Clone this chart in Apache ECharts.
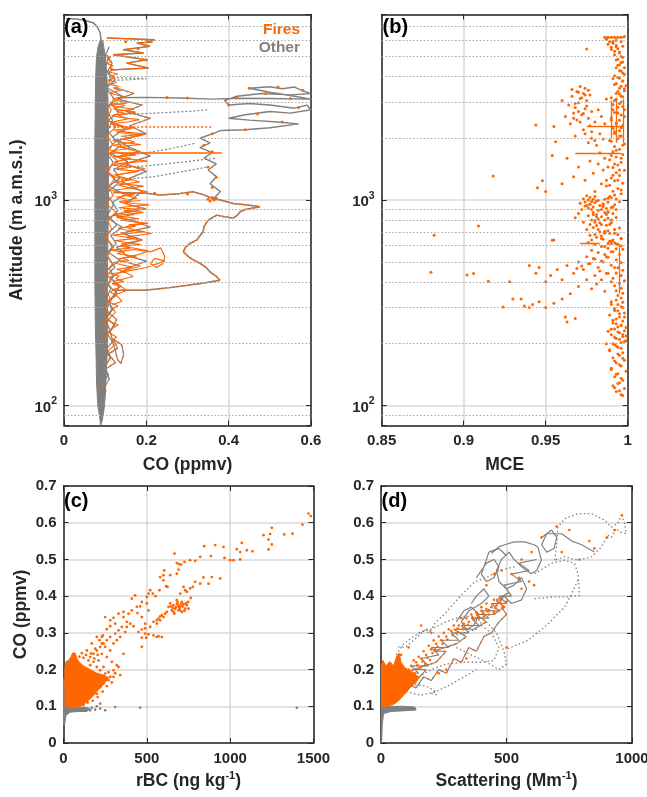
<!DOCTYPE html>
<html><head><meta charset="utf-8">
<script src="https://cdn.jsdelivr.net/npm/echarts@6/dist/echarts.min.js"></script>
<style>html,body{margin:0;padding:0;background:#fff}#c{width:647px;height:797px}</style>
</head><body><div id="c"></div>
<script>
// ---------------- DATA ----------------
const altMinorLines = [90,200,300,400,500,600,700,800,900,2000,3000,4000,5000,6000,7000];
const altRange = [80, 8000];
const coRangeA = [0, 0.6];
const mceRange = [0.85, 1];
const rbcRange = [0, 1500];
const scatRange = [0, 1000];
const coRangeCD = [0, 0.7];

// Panel (a): CO (ppmv) vs altitude (m)
const aOtherCore = [[0.089,80],[0.086,90],[0.082,100],[0.079,130],[0.078,170],[0.076,250],[0.075,400],[0.075,1000],[0.075,2000],[0.076,3000],[0.077,4000],[0.079,5000],[0.083,5600],[0.088,6000],[0.094,6000],[0.097,5500],[0.101,5000],[0.104,4000],[0.107,3000],[0.108,2000],[0.108,1000],[0.106,500],[0.105,300],[0.106,200],[0.103,150],[0.1,110],[0.097,95],[0.093,85]];
const aOtherT1 = [[0.088,90],[0.097,98],[0.091,107],[0.102,118],[0.094,129],[0.108,141],[0.099,155],[0.113,170],[0.101,186],[0.118,204],[0.105,224],[0.124,245],[0.103,269],[0.116,295],[0.108,323],[0.129,354],[0.104,388],[0.121,425],[0.11,466],[0.135,511],[0.106,560],[0.127,614],[0.113,673],[0.142,738],[0.108,809],[0.131,887],[0.117,972],[0.148,1066],[0.109,1168],[0.136,1281],[0.121,1404],[0.155,1539],[0.112,1687],[0.138,1850],[0.118,2028],[0.149,2223],[0.107,2437],[0.133,2672],[0.115,2929],[0.141,3211],[0.104,3520],[0.124,3859],[0.106,4231],[0.117,4638],[0.101,5085],[0.11,5575]];
const aOtherT2 = [[0.095,120],[0.11,135],[0.1,150],[0.125,162],[0.108,178],[0.13,190],[0.12,210],[0.14,198],[0.145,178],[0.138,160],[0.13,168],[0.112,230],[0.128,262],[0.102,290],[0.119,340],[0.134,380],[0.112,420],[0.16,470],[0.2,505],[0.15,540],[0.128,590],[0.19,640],[0.14,690],[0.21,740],[0.16,800],[0.12,850],[0.2,905],[0.15,960],[0.19,1100],[0.14,1230],[0.2,1380],[0.15,1500],[0.21,1640],[0.16,1800],[0.13,1950],[0.2,2100],[0.16,2300],[0.21,2500],[0.15,2700],[0.19,2900],[0.13,3100],[0.17,3300],[0.12,3550]];
const aOtherT3 = [[0.098,160],[0.107,182],[0.095,207],[0.112,233],[0.1,262],[0.119,295],[0.103,332],[0.114,373],[0.098,420],[0.124,472],[0.105,531],[0.117,597],[0.1,672],[0.128,756],[0.106,850],[0.121,956],[0.103,1076],[0.132,1210],[0.107,1361],[0.119,1531],[0.101,1722],[0.126,1937],[0.106,2179],[0.118,2451],[0.102,2757],[0.122,3101],[0.104,3488],[0.114,3923],[0.1,4413],[0.108,4964]];
const aOtherHook = [[0.093,5600],[0.09,6000],[0.088,6500],[0.08,7000],[0.07,7300],[0.05,7500],[0.03,7600],[0.005,7650]];
const aTopExcursion = [[0.104,6150],[0.221,6030],[0.2,5950],[0.215,5880],[0.177,5810],[0.209,5600],[0.144,5390],[0.193,5200],[0.119,5100],[0.201,4820],[0.152,4640],[0.205,4390],[0.112,4300]];
const aBigExcursion = [[0.13,3150],[0.2,3160],[0.28,3140],[0.36,3100],[0.42,3130],[0.5,3120],[0.6,3100],[0.56,3200],[0.5,3350],[0.45,3500],[0.5,3560],[0.53,3480],[0.56,3550],[0.58,3400],[0.6,3300],[0.55,3250],[0.48,3300],[0.42,3200],[0.39,3050],[0.4,2900],[0.45,2950],[0.5,2900],[0.56,2800],[0.59,2900],[0.6,2750],[0.55,2650],[0.5,2700],[0.44,2600],[0.4,2500],[0.45,2450],[0.52,2400],[0.57,2350],[0.5,2250],[0.44,2200],[0.38,2180],[0.36,2100],[0.33,2000],[0.355,1900],[0.33,1800],[0.36,1700],[0.34,1600],[0.37,1500],[0.35,1400],[0.37,1300],[0.355,1200],[0.38,1100],[0.36,1000]];
const aLowExcursion = [[0.12,1090],[0.2,1080],[0.233,1058],[0.28,1075],[0.313,1098],[0.34,1060],[0.359,1019],[0.38,1000],[0.411,963],[0.45,945],[0.476,928],[0.44,900],[0.428,877],[0.42,840],[0.411,817],[0.39,830],[0.371,845],[0.355,810],[0.347,784],[0.34,740],[0.338,700],[0.33,670],[0.322,638],[0.306,615],[0.295,590],[0.29,560],[0.302,531],[0.315,510],[0.33,493],[0.345,470],[0.355,447],[0.37,425],[0.379,407],[0.34,395],[0.3,385],[0.257,375],[0.22,368],[0.193,364],[0.15,364],[0.12,364]];
const aSweepA = [[0.1,3950],[0.15,3930],[0.2,3900],[0.16,3850],[0.11,3820]];
const aSweepB = [[0.12,1630],[0.2,1700],[0.26,1780],[0.318,1890]];
const aSweepC = [[0.12,1420],[0.25,1500],[0.37,1600]];
const aSweepD = [[0.12,1250],[0.22,1300],[0.35,1450]];
const aSweepE = [[0.12,2600],[0.22,2650],[0.3,2700],[0.35,2750]];
const aFiresT1 = [[0.104,160],[0.112,172],[0.108,185],[0.121,196],[0.115,208],[0.128,215],[0.11,226],[0.118,238],[0.132,247],[0.107,259],[0.114,270],[0.125,284],[0.119,297],[0.131,306],[0.109,318],[0.116,333],[0.127,341],[0.113,356],[0.122,368],[0.138,379],[0.117,392],[0.145,401],[0.126,414],[0.134,427],[0.111,438],[0.152,447],[0.128,461],[0.165,472],[0.137,486],[0.119,497],[0.158,508],[0.142,521],[0.176,533],[0.129,548],[0.148,559],[0.113,571],[0.162,584],[0.139,597],[0.187,608],[0.151,622],[0.124,635],[0.171,649],[0.144,663],[0.118,676],[0.159,689],[0.196,702],[0.148,717],[0.131,731],[0.174,745],[0.157,758],[0.205,771],[0.168,785],[0.139,799],[0.182,812],[0.154,828],[0.121,842],[0.166,857],[0.193,871],[0.146,886],[0.178,901],[0.133,917],[0.161,933],[0.207,948],[0.172,963],[0.141,979],[0.186,995]];
const aFiresT2 = [[0.152,1010],[0.127,1035],[0.171,1061],[0.138,1088],[0.116,1114],[0.158,1142],[0.193,1169],[0.145,1198],[0.122,1226],[0.167,1256],[0.134,1285],[0.111,1316],[0.149,1347],[0.182,1379],[0.128,1411],[0.161,1444],[0.119,1478],[0.141,1513],[0.203,1548],[0.156,1584],[0.124,1622],[0.175,1660],[0.138,1698],[0.112,1738],[0.159,1779],[0.131,1821],[0.187,1864],[0.146,1908],[0.118,1952],[0.165,1998],[0.139,2045],[0.198,2093],[0.152,2142],[0.121,2193],[0.171,2244],[0.134,2297],[0.113,2351],[0.158,2406],[0.183,2463],[0.137,2521],[0.116,2580],[0.149,2641],[0.127,2703],[0.171,2767],[0.136,2832],[0.111,2898],[0.154,2966],[0.132,3036],[0.118,3108],[0.146,3181],[0.125,3256],[0.109,3332],[0.138,3411],[0.121,3491],[0.134,3573],[0.112,3657],[0.128,3743],[0.106,3831],[0.124,3921],[0.114,4013],[0.131,4108],[0.108,4204],[0.122,4303],[0.111,4404],[0.119,4508],[0.105,4614],[0.116,4722],[0.107,4833],[0.113,4946],[0.104,5062]];
const aFiresT3 = [[0.1,205],[0.106,228],[0.098,251],[0.109,276],[0.102,304],[0.112,335],[0.099,368],[0.114,405],[0.103,446],[0.118,491],[0.104,540],[0.121,594],[0.101,654],[0.116,720],[0.107,792],[0.127,871],[0.103,959],[0.119,1055],[0.108,1161],[0.124,1277],[0.101,1405],[0.131,1546],[0.106,1701],[0.118,1871],[0.103,2059],[0.126,2265],[0.104,2492],[0.115,2742],[0.102,3016]];
const aFiresT4 = [[0.118,310],[0.141,322],[0.126,347],[0.152,363],[0.133,389],[0.119,401],[0.168,425],[0.143,452],[0.186,478],[0.157,495],[0.131,517],[0.178,541],[0.205,566],[0.162,588],[0.139,611],[0.184,637],[0.153,662],[0.212,688],[0.174,713],[0.149,741],[0.192,768],[0.163,795],[0.128,823],[0.171,852],[0.145,884],[0.189,915],[0.158,948],[0.134,982],[0.177,1020],[0.148,1059],[0.203,1098],[0.165,1140],[0.131,1183],[0.184,1228],[0.152,1274],[0.125,1322],[0.169,1372],[0.197,1424],[0.148,1478],[0.122,1534],[0.163,1592],[0.137,1652],[0.181,1715],[0.154,1780],[0.119,1847],[0.172,1917],[0.143,1990],[0.188,2065],[0.127,2143],[0.161,2224],[0.139,2308],[0.115,2396],[0.157,2487],[0.132,2581],[0.174,2679],[0.121,2780],[0.148,2885],[0.112,2994]];
const aFiresLoop = [[0.13,560],[0.17,575],[0.21,560],[0.235,585],[0.245,530],[0.24,490],[0.225,470],[0.21,490],[0.22,520],[0.245,505],[0.2,470],[0.15,450]];
const aFiresLine2270 = [[0.1,2270],[0.2,2270],[0.28,2270],[0.36,2270]];
const aFiresLine1694 = [[0.104,1694],[0.2,1694],[0.3,1694],[0.383,1694]];
const aFiresDots = [[0.45,3500],[0.52,3550],[0.58,3420],[0.49,3300],[0.42,3150],[0.55,3120],[0.4,2900],[0.57,2820],[0.47,2620],[0.53,2400],[0.44,2200],[0.36,2100],[0.34,1850],[0.36,1720],[0.35,1450],[0.37,1290],[0.36,1150],[0.35,1010],[0.365,1000],[0.37,1020],[0.355,990],[0.36,1030],[0.3,3140],[0.25,3160],[0.15,5900],[0.18,5450],[0.2,4800],[0.22,1080],[0.3,1070]];

// Panel (b): MCE vs altitude (m)
const bFires = [[0.986,6200],[0.988,6200],[0.99,6200],[0.992,6200],[0.994,6200],[0.996,6200],[0.998,6250],[0.987,6050],[0.989,5900],[0.991,5800],[0.993,5650],[0.99,5550],[0.994,5450],[0.992,5300],[0.995,5200],[0.996,5900],[0.997,5600],[0.993,6000],[0.975,5430],
[0.996,5000],[0.994,4850],[0.997,4700],[0.995,4550],[0.993,4400],[0.996,4250],[0.998,4100],[0.994,3950],[0.997,3800],[0.992,3650],[0.995,3500],[0.998,3400],[0.993,3300],[0.996,3200],[0.999,3600],[0.991,3900],
[0.971,3570],[0.974,3500],[0.976,3420],[0.969,3380],[0.973,3300],[0.977,3250],[0.966,3200],[0.972,3150],[0.975,3050],[0.97,2980],[0.964,2900],[0.968,2820],[0.974,2780],[0.978,2700],[0.967,2650],[0.972,2600],[0.976,2500],[0.962,2550],[0.969,2450],[0.98,2400],[0.965,2350],[0.973,2200],[0.978,2150],[0.983,2100],[0.968,2050],[0.985,1980],[0.976,1900],[0.981,1850],[0.984,2550],[0.986,2350],[0.982,2750],[0.987,3100],[0.96,3050],[0.955,2280],[0.944,2320],
[0.99,3150],[0.992,3050],[0.995,2950],[0.997,2850],[0.991,2750],[0.994,2650],[0.998,2550],[0.99,2450],[0.993,2350],[0.996,2250],[0.992,2150],[0.995,2050],[0.989,1950],[0.997,1850],[0.993,1750],[0.99,1650],[0.996,1600],[0.992,1500],[0.988,1450],[0.995,1400],[0.991,1320],[0.994,1250],[0.989,1180],[0.996,1120],[0.992,1060],[0.988,1020],[0.986,1600],[0.985,1400],[0.984,1200],[0.982,1500],[0.979,1350],[0.977,1550],[0.974,1250],[0.97,1450],[0.967,1300],[0.963,1600],[0.96,1200],[0.956,1925],[0.954,1646],[0.95,1100],[0.948,1242],[0.945,1148],[0.98,1100],[0.983,1700],[0.987,1250],
[0.975,1050],[0.977,1030],[0.979,1010],[0.976,1000],[0.978,985],[0.98,970],[0.977,955],[0.975,940],[0.979,925],[0.981,990],[0.974,980],[0.976,915],[0.978,900],[0.98,1040],
[0.972,900],[0.97,860],[0.968,820],[0.973,780],[0.976,840],[0.979,870],[0.982,810],[0.984,760],[0.98,780],[0.978,800],[0.981,830],[0.977,760],[0.975,720],[0.983,700],[0.986,690],[0.988,880],[0.99,920],[0.992,950],[0.991,860],[0.993,900],[0.99,800],[0.989,760],[0.992,720],[0.994,680],[0.996,650],[0.991,640],[0.985,930],[0.987,850],[0.984,650],[0.98,680],[0.978,640],
[0.988,615],[0.99,615],[0.992,620],[0.994,610],[0.996,600],[0.954,638],[0.955,640],[0.909,747],[0.882,675],
[0.993,580],[0.99,560],[0.987,530],[0.985,500],[0.982,470],[0.979,520],[0.976,490],[0.973,460],[0.97,500],[0.967,440],[0.963,480],[0.96,410],[0.957,460],[0.953,430],[0.95,400],[0.946,470],[0.944,440],[0.94,480],[0.988,440],[0.984,410],[0.981,390],[0.978,370],[0.986,360],[0.99,400],[0.992,470],[0.98,430],[0.975,410],[0.97,380],[0.965,350],[0.96,330],[0.955,315],[0.95,300],[0.946,320],[0.94,300],[0.935,330],[0.928,400],[0.924,302],[0.915,403],[0.906,439],[0.902,432],[0.88,446],[0.918,1310],[0.93,330],[0.937,305],[0.942,310],[0.962,270],[0.963,255],[0.968,265],
[0.99,320],[0.994,310],[0.997,300],[0.992,290],[0.995,280],[0.998,270],[0.991,260],[0.993,250],[0.996,245],[0.99,235],[0.994,228],[0.997,222],[0.999,218],[0.992,215],[0.995,210],[0.998,205],[0.991,200],[0.993,195],[0.996,190],[0.989,185],[0.994,178],[0.997,170],[0.992,165],[0.995,158],[0.99,150],[0.993,142],[0.996,136],[0.994,128],[0.992,122],[0.995,118],[0.997,112],[0.988,230],[0.987,200],[0.999,240]];
const bColumn = [[0.996,113],[0.993,117],[0.998,121],[0.991,125],[0.995,129],[0.997,133],[0.992,138],[0.994,143],[0.999,147],[0.99,152],[0.996,156],[0.993,161],[0.998,166],[0.991,171],[0.995,176],[0.997,181],[0.989,187],[0.994,192],[0.992,198],[0.996,203],[0.999,207],[0.993,212],[0.997,216],[0.99,221],[0.995,226],[0.998,231],[0.992,236],[0.994,241],[0.996,247],[0.991,252],[0.997,258],[0.993,264],[0.995,270],[0.989,276],[0.998,282],[0.994,289],[0.992,296],[0.996,303],[0.99,311],[0.997,318],[0.993,326],
[0.996,334],[0.994,343],[0.997,352],[0.993,362],[0.996,372],[0.992,383],[0.995,394],[0.998,405],[0.991,417],[0.996,429],[0.993,442],[0.997,455],[0.994,468],[0.99,482],[0.996,497],[0.993,512],[0.988,527],[0.995,543],[0.991,560],[0.997,577],[0.986,594],[0.993,612],[0.989,631],[0.996,650],[0.984,669],[0.992,689],[0.988,710],[0.995,731],[0.981,753],[0.99,776],[0.986,799],[0.993,823],[0.979,848],[0.988,873],[0.984,899],[0.991,926],[0.977,954],[0.995,982],
[0.993,1012],[0.989,1042],[0.996,1073],[0.991,1105],[0.994,1138],[0.987,1172],[0.997,1207],[0.992,1243],[0.99,1280],[0.995,1318],[0.993,1357],[0.998,1398],[0.991,1440],[0.994,1483],[0.996,1527],[0.989,1573],[0.993,1620],[0.997,1668],[0.991,1718],[0.995,1769],[0.992,1822],[0.998,1876],[0.99,1932],[0.994,1990],[0.996,2049],[0.992,2110],[0.995,2173],[0.991,2238],[0.997,2305],[0.993,2374],[0.995,2445],[0.99,2518],[0.996,2593],[0.992,2670],[0.998,2750],[0.994,2832],[0.991,2917],[0.996,3004],[0.993,3094],[0.997,3186],[0.995,3281],
[0.994,3379],[0.998,3480],[0.996,3584],[0.993,3691],[0.997,3801],[0.995,3915],[0.992,4032],[0.997,4152],[0.995,4276],[0.998,4404],[0.994,4535],[0.996,4671],[0.993,4810],[0.997,4954],[0.992,5102],[0.995,5254],[0.99,5411],[0.993,5573],[0.988,5739],[0.991,5911],[0.987,6087],
[0.985,960],[0.983,940],[0.987,910],[0.982,890],[0.986,870],[0.981,850],[0.984,830],[0.988,815],[0.98,795],[0.983,775],[0.987,755],[0.979,735],[0.982,720],[0.986,705],[0.989,690],[0.977,675],[0.981,660],[0.985,645],[0.99,630],[0.976,622],[0.98,608],[0.984,595],[0.988,583],[0.978,570],[0.982,556],[0.986,543],[0.975,530],[0.98,517],[0.984,505],[0.977,492],[0.972,478],[0.969,465],[0.983,452],[0.987,440],
[0.99,1030],[0.986,1010],[0.982,995],[0.988,975],[0.985,950],[0.973,1015],[0.971,965],[0.974,935],
[0.966,3450],[0.97,3350],[0.974,3250],[0.971,3120],[0.968,2950],[0.975,2870],[0.97,2700],[0.973,2640],[0.967,2500],[0.971,2400],[0.977,2300],[0.974,2100],[0.978,2000],[0.98,1950]];
const bStreaks = [[[0.975,2276],[0.997,2276]],[[0.968,1690],[0.996,1690]],[[0.995,350],[0.995,610]],[[0.993,1900],[0.993,3100]],[[0.997,1900],[0.997,3100]],[[0.99,2000],[0.99,3050]],[[0.986,6180],[0.998,6180]],[[0.971,615],[0.983,615]]];

// Panel (c): rBC (ng/kg) vs CO (ppmv)
const cOtherBlob = [[0,0.05],[0,0.175],[10,0.175],[12,0.1],[40,0.098],[80,0.097],[120,0.098],[160,0.094],[140,0.086],[90,0.086],[40,0.084],[15,0.075],[10,0.06],[6,0.05]];
const cOther = [[310,0.098],[460,0.096],[1400,0.096],[220,0.094],[190,0.091],[160,0.089],[250,0.089],[130,0.088],[100,0.087],[170,0.096],[200,0.1]];
const cFiresBlob = [[10,0.1],[8,0.2],[15,0.222],[30,0.225],[45,0.235],[55,0.245],[70,0.245],[80,0.23],[95,0.22],[120,0.21],[160,0.2],[200,0.19],[240,0.185],[270,0.178],[250,0.165],[220,0.15],[190,0.135],[160,0.12],[130,0.108],[100,0.1],[60,0.098]];
const cFires = [[1470,0.625],[1484,0.618],[1434,0.595],[1374,0.57],[1324,0.568],[1250,0.586],[1240,0.569],[1230,0.554],[1250,0.541],[1230,0.527],[1200,0.566],[1134,0.522],[1100,0.525],[1070,0.545],[1060,0.52],[1040,0.528],[1020,0.498],[1000,0.498],[1060,0.5],[966,0.504],[960,0.534],[910,0.539],[884,0.509],[844,0.536],[820,0.507],[790,0.496],[760,0.498],[726,0.493],[706,0.486],[680,0.49],[666,0.516],[690,0.472],[680,0.461],[640,0.457],[604,0.47],[580,0.452],[600,0.443],[624,0.425],[576,0.416],[520,0.416],[536,0.407],[552,0.4],[460,0.372],[500,0.38],[510,0.361],
[940,0.448],[890,0.452],[870,0.434],[840,0.451],[820,0.434],[790,0.439],[776,0.425],[760,0.421],[740,0.412],[764,0.395],[748,0.384],[730,0.416],[720,0.425],[700,0.407],
[660,0.375],[680,0.379],[700,0.371],[720,0.378],[670,0.366],[690,0.361],[710,0.384],[730,0.366],[650,0.361],[630,0.371],[740,0.375],[680,0.389],[660,0.357],[710,0.357],[640,0.38],[750,0.366],[620,0.357],[610,0.352],[590,0.348],[600,0.343],[580,0.345],[570,0.339],[560,0.334],
[675,0.37],[695,0.368],[715,0.372],[655,0.368],[685,0.383],[705,0.378],[725,0.36],[665,0.352],[645,0.372],[735,0.38],[700,0.362],[690,0.374],
[580,0.334],[560,0.325],[540,0.33],[520,0.316],[490,0.312],[470,0.309],[450,0.302],[490,0.298],[510,0.296],[540,0.293],[570,0.291],[590,0.289],[560,0.289],[470,0.287],[470,0.262],[496,0.287],
[510,0.407],[500,0.398],[470,0.384],[440,0.371],[410,0.361],[390,0.352],[360,0.343],[380,0.33],[350,0.316],[330,0.307],[310,0.298],[300,0.341],[280,0.318],[260,0.31],[236,0.293],[240,0.271],[220,0.262],[200,0.252],[180,0.243],[160,0.234],[260,0.234],[290,0.221],[320,0.212],[340,0.185],[220,0.107],[410,0.393],[430,0.402],[400,0.325],[420,0.318],[470,0.343],[490,0.325],[444,0.354],[600,0.457],[616,0.427],[694,0.487],
[170,0.271],[190,0.257],[230,0.243],[210,0.225],[240,0.207],[270,0.193],[300,0.198],[330,0.207],[360,0.243],[280,0.252],[250,0.262],[230,0.289],
[200,0.289],[216,0.28],[230,0.271],[260,0.28],[280,0.289],[300,0.271],[320,0.28],[340,0.289],[370,0.302],[380,0.316],[310,0.325],[280,0.334],[250,0.343],[330,0.352],[360,0.357],[180,0.221],[160,0.212],[200,0.207],[220,0.198],[250,0.189],[280,0.18],[190,0.189],[170,0.171],[220,0.152],[200,0.134],[240,0.162],[270,0.171],
[120,0.232],[135,0.24],[150,0.225],[110,0.245],[140,0.252],[165,0.244],[185,0.23],[205,0.24],[95,0.235],[290,0.165],[300,0.18],[310,0.19],[260,0.155],[235,0.14],[205,0.125],[175,0.115],[145,0.11],[120,0.104]];

// Panel (d): Scattering (Mm-1) vs CO (ppmv)
const dOtherBlob = [[0,0.0],[0,0.1],[40,0.1],[90,0.1],[135,0.098],[140,0.09],[100,0.088],[40,0.086],[10,0.08],[5,0.05],[3,0.01]];
const dOtherArcTop = [[692,0.498],[700,0.54],[705,0.588],[732,0.611],[785,0.625],[838,0.625],[891,0.607],[918,0.588],[944,0.598],[957,0.62],[970,0.6],[977,0.57],[950,0.575],[937,0.584],[918,0.56],[904,0.566],[878,0.534],[838,0.507],[785,0.498],[732,0.507],[692,0.498]];
const dOtherLoopRight = [[612,0.461],[680,0.49],[732,0.498],[771,0.489],[785,0.461],[791,0.402],[745,0.398],[692,0.398],[612,0.393]];
const dOtherDiagRight = [[785,0.443],[732,0.37],[652,0.316],[586,0.28],[506,0.257]];
const dOtherArcLeft = [[532,0.48],[470,0.47],[420,0.45],[373,0.439],[330,0.41],[307,0.393],[254,0.352],[220,0.33],[190,0.3],[174,0.307],[130,0.28],[100,0.262],[68,0.262]];
const dOtherLower = [[150,0.18],[200,0.2],[260,0.215],[330,0.22],[400,0.22],[450,0.225],[470,0.26],[440,0.3],[400,0.32]];
const dOtherLower2 = [[120,0.16],[180,0.155],[220,0.14],[200,0.135],[230,0.13]];
const dOtherA = [[150,0.3],[200,0.31],[260,0.33],[320,0.345],[370,0.345],[400,0.33],[380,0.31],[330,0.3],[280,0.29]];
const dOtherB = [[300,0.26],[360,0.24],[420,0.22],[470,0.2],[500,0.215],[490,0.25],[460,0.3],[420,0.33]];
const dOtherE = [[60,0.24],[90,0.27],[130,0.29],[180,0.31],[210,0.3]];
const dOtherF = [[100,0.14],[160,0.13],[220,0.14],[280,0.16],[330,0.18],[380,0.2]];
const dOtherLoops = [[440,0.516],[470,0.535],[493,0.54],[530,0.548],[572,0.548],[610,0.54],[625,0.534],[639,0.498],[620,0.47],[599,0.461],[560,0.48],[530,0.5],[510,0.52],[480,0.5],[460,0.47],[470,0.44],[500,0.42],[530,0.43],[560,0.45],[580,0.42],[560,0.39],[520,0.38],[490,0.4],[470,0.38]];
const dOtherC = [[300,0.33],[330,0.36],[360,0.37],[390,0.35],[370,0.32],[340,0.31],[320,0.33],[350,0.36],[400,0.38],[430,0.4],[410,0.42],[380,0.4],[360,0.38]];
const dOtherD = [[380,0.45],[420,0.49],[450,0.5],[470,0.48],[450,0.45],[420,0.44],[400,0.46],[430,0.52],[470,0.53],[500,0.51]];
const dOtherH = [[640,0.56],[680,0.58],[700,0.56],[690,0.53],[660,0.52],[640,0.54],[660,0.57],[720,0.57],[760,0.55],[800,0.54],[850,0.52]];
const dOtherBand1 = [[5,0.1],[40,0.12],[20,0.14],[70,0.15],[50,0.17],[110,0.17],[90,0.19],[150,0.19],[120,0.21],[190,0.21],[160,0.23],[230,0.24],[200,0.26],[270,0.26],[240,0.28],[310,0.28],[280,0.3],[350,0.3],[320,0.32],[390,0.32],[360,0.34],[430,0.34],[400,0.36],[470,0.36],[440,0.38],[500,0.38],[470,0.4],[520,0.4],[490,0.43],[560,0.44],[520,0.46],[590,0.47],[550,0.49],[620,0.5]];
const dOtherBand2 = [[10,0.11],[60,0.13],[100,0.15],[70,0.16],[140,0.17],[180,0.2],[130,0.2],[220,0.22],[260,0.25],[210,0.25],[300,0.27],[340,0.29],[290,0.31],[370,0.31],[420,0.33],[380,0.35],[450,0.35],[490,0.37],[460,0.39],[510,0.41]];
const dOtherBand3 = [[20,0.12],[50,0.14],[80,0.13],[110,0.16],[140,0.15],[170,0.18],[200,0.17],[230,0.2],[260,0.19],[290,0.23],[320,0.22],[350,0.26],[380,0.25],[410,0.29],[440,0.3],[470,0.33],[500,0.35],[480,0.37]];
const dFiresBlob = [[0,0.1],[0,0.205],[8,0.225],[20,0.21],[35,0.222],[50,0.21],[62,0.235],[72,0.245],[80,0.22],[95,0.205],[120,0.195],[150,0.18],[140,0.165],[115,0.15],[90,0.13],[70,0.115],[50,0.105],[20,0.1]];
const dFires = [[400,0.36],[420,0.365],[440,0.37],[460,0.375],[480,0.38],[490,0.37],[470,0.36],[450,0.355],[430,0.35],[410,0.345],[390,0.34],[370,0.335],[350,0.33],[380,0.355],[400,0.37],[360,0.35],[340,0.34],[420,0.38],[450,0.39],[475,0.39],[500,0.385],[330,0.325],[310,0.32],[300,0.3],[280,0.305],[260,0.29],[240,0.28],[220,0.27],[200,0.255],[180,0.24],[160,0.23],[140,0.22],[120,0.21],[190,0.265],[230,0.29],[270,0.31],[250,0.3],[290,0.32],[320,0.34],[210,0.28],[170,0.25],[150,0.235],[130,0.225],[110,0.2],[100,0.19],
[430,0.362],[455,0.368],[485,0.372],[465,0.385],[445,0.378],[425,0.358],[405,0.352],[385,0.348],[365,0.342],[345,0.322],[325,0.31],[305,0.312],[285,0.295],[265,0.282],[245,0.27],[225,0.262],[205,0.245],[185,0.232],[165,0.222],[145,0.212],[125,0.198],[105,0.182],[215,0.255],[195,0.226],[175,0.215],[155,0.205],[135,0.19],
[420,0.43],[450,0.46],[480,0.47],[520,0.46],[550,0.45],[590,0.44],[610,0.43],[560,0.5],[600,0.52],[640,0.56],[700,0.59],[750,0.58],[830,0.55],[850,0.53],[900,0.56],[930,0.58],[960,0.62],[720,0.52],[790,0.5],[560,0.42],[500,0.26],[200,0.3],[160,0.32],[110,0.26],[80,0.24],[260,0.2],[230,0.19],[340,0.23]];

// ---------------- STYLE / BUILD ----------------
const FONT = '"Liberation Sans", Arial, Helvetica, sans-serif';
const AXC = '#262626';
const ORANGE = '#ff6600';
const GRAY = '#808080';

const chart = echarts.init(document.getElementById('c'), null, {renderer: 'canvas'});

const axLine = {show: true, onZero: false, lineStyle: {color: AXC, width: 1.5}};
const axTick = {show: true, inside: true, length: 5, lineStyle: {color: AXC, width: 1}};
const split = {show: true, lineStyle: {color: '#d9d9d9', width: 1.5}};
const titleStyle = {color: AXC, fontSize: 17.5, fontWeight: 'bold', fontFamily: FONT, lineHeight: 22,
  rich: {s: {fontSize: 11, fontWeight: 'bold', fontFamily: FONT, color: AXC, verticalAlign: 'top', lineHeight: 11}}};
function plain(v) { return String(v); }
function lbl(margin, extra) {
  return Object.assign({color: AXC, fontSize: 15, fontWeight: 'bold', fontFamily: FONT, margin: margin, showMinLabel: true, showMaxLabel: true, hideOverlap: false, formatter: plain}, extra || {});
}
const logLabel = lbl(7, {
  formatter: function (v) {
    const e = Math.log10(v);
    if (Math.abs(e - Math.round(e)) > 1e-6) return '';
    return '{b|10}{s|' + Math.round(e) + '}';
  },
  rich: {
    b: {fontSize: 15, fontWeight: 'bold', fontFamily: FONT, color: AXC, lineHeight: 19, verticalAlign: 'bottom'},
    s: {fontSize: 10.5, fontWeight: 'bold', fontFamily: FONT, color: AXC, lineHeight: 10, verticalAlign: 'top'}
  }
});

function xPair(g, range, interval, name, gap) {
  const base = {gridIndex: g, type: 'value', min: range[0], max: range[1], interval: interval};
  return [
    Object.assign({}, base, {position: 'bottom', name: name, nameLocation: 'middle', nameGap: gap, nameTextStyle: titleStyle,
      axisLine: axLine, axisTick: axTick, axisLabel: lbl(8), splitLine: split}),
    Object.assign({}, base, {position: 'top', axisLine: axLine, axisTick: axTick, axisLabel: {show: false}, splitLine: {show: false}})
  ];
}
function yPairValue(g, range, interval, name, gap) {
  const base = {gridIndex: g, type: 'value', min: range[0], max: range[1], interval: interval};
  return [
    Object.assign({}, base, {position: 'left', name: name, nameLocation: 'middle', nameGap: gap, nameTextStyle: titleStyle,
      axisLine: axLine, axisTick: axTick, axisLabel: lbl(7), splitLine: split}),
    Object.assign({}, base, {position: 'right', axisLine: axLine, axisTick: axTick, axisLabel: {show: false}, splitLine: {show: false}})
  ];
}
function yPairLog(g, range, name, gap) {
  const base = {gridIndex: g, type: 'log', logBase: 10, min: range[0], max: range[1]};
  return [
    Object.assign({}, base, {position: 'left', name: name, nameLocation: 'middle', nameGap: gap, nameTextStyle: titleStyle,
      axisLine: axLine, axisTick: axTick, axisLabel: logLabel, splitLine: split}),
    Object.assign({}, base, {position: 'right', axisLine: axLine, axisTick: axTick, axisLabel: {show: false}, splitLine: {show: false}})
  ];
}

function lineS(name, idx, arr, color, width, type, z) {
  return {type: 'line', name: name, xAxisIndex: idx, yAxisIndex: idx, data: arr, symbol: 'none', silent: true,
    lineStyle: {color: color, width: width, type: type || 'solid'}, itemStyle: {color: color}, z: z, clip: true, animation: false};
}
function scatS(name, idx, arr, color, size, z) {
  return {type: 'scatter', name: name, xAxisIndex: idx, yAxisIndex: idx, data: arr, symbol: 'circle', symbolSize: size,
    itemStyle: {color: color, opacity: 1}, silent: true, z: z, clip: true, animation: false};
}
function polyS(name, idx, arr, color, z) {
  return {type: 'custom', name: name, xAxisIndex: idx, yAxisIndex: idx, data: arr, silent: true, z: z, clip: true,
    itemStyle: {color: color},
    renderItem: function (params, api) {
      if (params.dataIndex !== 0) return null;
      const pts = arr.map(function (p) { return api.coord(p); });
      return {type: 'polygon', shape: {points: pts}, style: {fill: color, stroke: color, lineWidth: 1}};
    }};
}
function minorGrid(idx, xVal) {
  return {type: 'scatter', name: 'grid', xAxisIndex: idx, yAxisIndex: idx, data: [[xVal, 1000]], symbolSize: 0, silent: true, z: 1,
    markLine: {silent: true, symbol: ['none', 'none'], label: {show: false}, animation: false,
      lineStyle: {color: '#a6a6a6', width: 1.2, type: [1.5, 2]},
      data: altMinorLines.map(function (v) { return {yAxis: v}; })}};
}

const xAxes = [].concat(
  xPair(0, coRangeA, 0.2, 'CO (ppmv)', 29),
  xPair(1, mceRange, 0.05, 'MCE', 29),
  xPair(2, rbcRange, 500, 'rBC (ng kg{s|-1})', 27),
  xPair(3, scatRange, 500, 'Scattering (Mm{s|-1})', 27)
);
const yAxes = [].concat(
  yPairLog(0, altRange, 'Altitude (m a.m.s.l.)', 36),
  yPairLog(1, altRange, '', 30),
  yPairValue(2, coRangeCD, 0.1, 'CO (ppmv)', 31),
  yPairValue(3, coRangeCD, 0.1, '', 30)
);

const dash = [1.5, 2.5];
const series = [
  minorGrid(0, 0.3),
  minorGrid(2, 0.9),
  // (a) Other
  polyS('Other', 0, aOtherCore, GRAY, 2),
  lineS('Other', 0, aOtherT1, GRAY, 1.2, 'solid', 2),
  lineS('Other', 0, aOtherT2, GRAY, 1.2, 'solid', 2),
  lineS('Other', 0, aOtherT3, GRAY, 1.2, 'solid', 2),
  lineS('Other', 0, aOtherHook, GRAY, 1.5, 'solid', 2),
  lineS('Other', 0, aTopExcursion, GRAY, 1.5, 'solid', 2),
  lineS('Other', 0, aBigExcursion, GRAY, 1.4, 'solid', 2),
  lineS('Other', 0, aLowExcursion, GRAY, 1.5, 'solid', 2),
  lineS('Other', 0, aSweepA, GRAY, 1.2, [2, 2], 2),
  lineS('Other', 0, aSweepB, GRAY, 1.2, [2, 2], 2),
  lineS('Other', 0, aSweepC, GRAY, 1.2, [2, 2], 2),
  lineS('Other', 0, aSweepD, GRAY, 1.2, [2, 2], 2),
  lineS('Other', 0, aSweepE, GRAY, 1.2, [2, 2], 2),
  // (a) Fires
  lineS('Fires', 0, aFiresT1, ORANGE, 1.1, 'solid', 3),
  lineS('Fires', 0, aFiresT2, ORANGE, 1.1, 'solid', 3),
  lineS('Fires', 0, aFiresT3, ORANGE, 1.1, 'solid', 3),
  lineS('Fires', 0, aFiresT4, ORANGE, 1.1, 'solid', 3),
  lineS('Fires', 0, aOtherT2, ORANGE, 1.5, [1.5, 4], 3),
  lineS('Fires', 0, aTopExcursion, ORANGE, 1, 'solid', 3),
  lineS('Fires', 0, aLowExcursion, ORANGE, 1.5, [2, 2], 3),
  lineS('Fires', 0, aFiresLoop, ORANGE, 1.2, 'solid', 3),
  lineS('Fires', 0, aFiresLine2270, ORANGE, 1.5, [2, 2], 3),
  lineS('Fires', 0, aFiresLine1694, ORANGE, 1.5, 'solid', 3),
  scatS('Fires', 0, aFiresDots, ORANGE, 3, 3),
  // (b)
  scatS('Fires', 2, bFires, ORANGE, 3, 3),
  scatS('Fires', 2, bColumn, ORANGE, 3, 3),
  {type: 'lines', name: 'Fires', coordinateSystem: 'cartesian2d', xAxisIndex: 2, yAxisIndex: 2, silent: true, z: 3,
    lineStyle: {color: ORANGE, width: 1.3, opacity: 1}, data: bStreaks.map(function (s) { return {coords: s}; })},
  // (c)
  polyS('Other', 4, cOtherBlob, GRAY, 2),
  scatS('Other', 4, cOther, GRAY, 2.6, 2),
  polyS('Fires', 4, cFiresBlob, ORANGE, 3),
  scatS('Fires', 4, cFires, ORANGE, 2.8, 3),
  // (d)
  polyS('Other', 6, dOtherBlob, GRAY, 2),
  lineS('Other', 6, dOtherArcTop, GRAY, 1.3, dash, 2),
  lineS('Other', 6, dOtherLoopRight, GRAY, 1.3, dash, 2),
  lineS('Other', 6, dOtherDiagRight, GRAY, 1.3, dash, 2),
  lineS('Other', 6, dOtherArcLeft, GRAY, 1.3, dash, 2),
  lineS('Other', 6, dOtherLower, GRAY, 1.3, dash, 2),
  lineS('Other', 6, dOtherLower2, GRAY, 1.3, dash, 2),
  lineS('Other', 6, dOtherA, GRAY, 1.3, dash, 2),
  lineS('Other', 6, dOtherB, GRAY, 1.3, dash, 2),
  lineS('Other', 6, dOtherE, GRAY, 1.3, dash, 2),
  lineS('Other', 6, dOtherF, GRAY, 1.3, dash, 2),
  lineS('Other', 6, dOtherLoops, GRAY, 1.2, 'solid', 2),
  lineS('Other', 6, dOtherC, GRAY, 1.2, 'solid', 2),
  lineS('Other', 6, dOtherD, GRAY, 1.2, 'solid', 2),
  lineS('Other', 6, dOtherH, GRAY, 1.2, 'solid', 2),
  lineS('Other', 6, dOtherBand1, GRAY, 1.1, 'solid', 2),
  lineS('Other', 6, dOtherBand2, GRAY, 1.1, 'solid', 2),
  lineS('Other', 6, dOtherBand3, GRAY, 1.1, 'solid', 2),
  lineS('Fires', 6, dOtherBand2, ORANGE, 1.5, [1.5, 4], 3),
  lineS('Fires', 6, dOtherBand3, ORANGE, 1.5, [1.5, 5], 3),
  polyS('Fires', 6, dFiresBlob, ORANGE, 3),
  scatS('Fires', 6, dFires, ORANGE, 2.6, 3)
];

const letterStyle = {fontSize: 20, fontWeight: 'bold', fontFamily: FONT, color: '#000'};
const option = {
  animation: false,
  backgroundColor: '#ffffff',
  grid: [
    {left: 64, top: 14.5, width: 247, height: 411, show: false, outerBoundsMode: 'none', containLabel: false},
    {left: 381.7, top: 14.5, width: 246, height: 411, show: false, outerBoundsMode: 'none', containLabel: false},
    {left: 63.5, top: 486, width: 250, height: 257, show: false, outerBoundsMode: 'none', containLabel: false},
    {left: 381, top: 486, width: 251, height: 257, show: false, outerBoundsMode: 'none', containLabel: false}
  ],
  title: [
    {text: '(a)', left: 64, top: 17, padding: 0, textStyle: letterStyle},
    {text: '(b)', left: 382.5, top: 17, padding: 0, textStyle: letterStyle},
    {text: '(c)', left: 64, top: 491, padding: 0, textStyle: letterStyle},
    {text: '(d)', left: 381.5, top: 491, padding: 0, textStyle: letterStyle}
  ],
  legend: {
    orient: 'vertical', right: 342, top: 22, align: 'right', icon: 'rect', itemWidth: 0, itemHeight: 0, itemGap: 2,
    padding: 0, selectedMode: false,
    textStyle: {fontSize: 15.5, fontWeight: 'bold', fontFamily: FONT, padding: 0},
    data: [{name: 'Fires', textStyle: {color: ORANGE}}, {name: 'Other', textStyle: {color: GRAY}}]
  },
  xAxis: xAxes,
  yAxis: yAxes,
  series: series
};
chart.setOption(option);
</script></body></html>
